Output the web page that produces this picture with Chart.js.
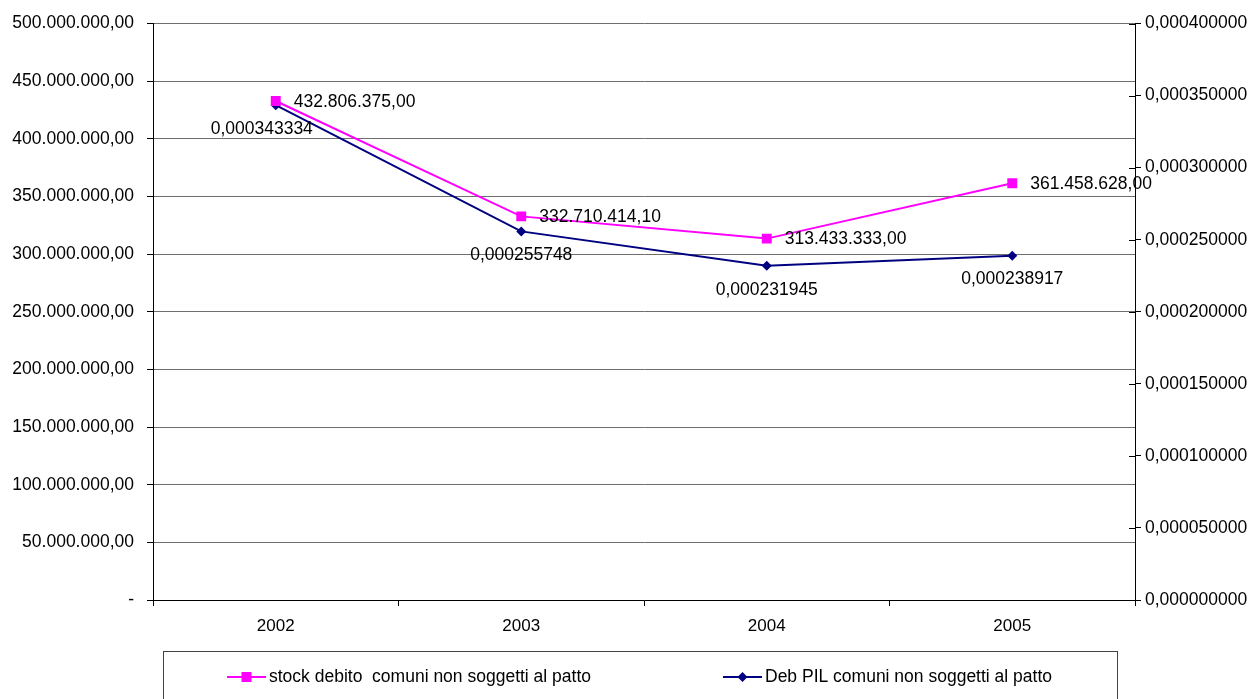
<!DOCTYPE html>
<html>
<head>
<meta charset="utf-8">
<script src="https://cdn.jsdelivr.net/npm/chart.js@4/dist/chart.umd.min.js"></script>
<style>
  body { margin: 0; background: #fff; }
  #wrap { width: 1255px; height: 699px; position: relative; }
</style>
</head>
<body>
<div id="wrap"><canvas id="myChart"></canvas></div>
<script>
// anni e serie
var years = ['2002', '2003', '2004', '2005'];
var stockDebito = [432806375.00, 332710414.10, 313433333.00, 361458628.00];
var debPil = [0.000343334, 0.000255748, 0.000231945, 0.000238917];
var stockLabel = 'stock debito  comuni non soggetti al patto';
var pilLabel = 'Deb PIL comuni non soggetti al patto';

// tick degli assi
var leftTicks = [0, 50000000, 100000000, 150000000, 200000000, 250000000, 300000000, 350000000, 400000000, 450000000, 500000000];
var rightTicks = [0, 0.00005, 0.0001, 0.00015, 0.0002, 0.00025, 0.0003, 0.00035, 0.0004];

var FONT = 'Liberation Sans, Arial, sans-serif';
var PINK = '#FF00FF';
var NAVY = '#000080';

// 432806375 -> "432.806.375,00"
function euro(v) {
    var parts = v.toFixed(2).split('.');
    var intPart = parts[0].replace(/\B(?=(\d{3})+(?!\d))/g, '.');
    return intPart + ',' + parts[1];
}
function small(v) {
    return v.toFixed(9).replace('.', ',');
}

// etichette dei valori, tacche interne dell'asse destro, legenda
var extras = {
    id: 'extras',
    afterDatasetsDraw: function(chart) {
        var ctx = chart.ctx;
        ctx.save();
        ctx.font = '17.5px ' + FONT;
        ctx.fillStyle = '#000';
        ctx.textBaseline = 'middle';

        var m0 = chart.getDatasetMeta(0);
        ctx.textAlign = 'left';
        m0.data.forEach(function(p, i) {
            ctx.fillText(euro(stockDebito[i]), p.x + 18, p.y + 1);
        });

        var m1 = chart.getDatasetMeta(1);
        ctx.textAlign = 'center';
        m1.data.forEach(function(p, i) {
            var dx = i == 0 ? -14 : 0;
            ctx.fillText(small(debPil[i]), p.x + dx, p.y + 24);
        });

        // tacche a croce sull'asse destro
        var y1 = chart.scales.y1;
        var area = chart.chartArea;
        ctx.strokeStyle = '#000';
        ctx.lineWidth = 1;
        rightTicks.forEach(function(v) {
            var yy = Math.round(y1.getPixelForValue(v)) + 0.5;
            ctx.beginPath();
            ctx.moveTo(area.right - 6, yy);
            ctx.lineTo(area.right, yy);
            ctx.stroke();
        });
        ctx.restore();
    },
    afterDraw: function(chart) {
        var ctx = chart.ctx;
        ctx.save();
        ctx.strokeStyle = '#444';
        ctx.lineWidth = 1;
        ctx.strokeRect(163.5, 651.5, 954, 80);

        var ly = 677;
        var entries = [
            { x1: 227, x2: 266, text: stockLabel, w: 330, color: PINK, shape: 'rect' },
            { x1: 723, x2: 762, text: pilLabel, w: 295, color: NAVY, shape: 'diamond' }
        ];
        entries.forEach(function(e) {
            ctx.strokeStyle = e.color;
            ctx.lineWidth = 2;
            ctx.beginPath();
            ctx.moveTo(e.x1, ly);
            ctx.lineTo(e.x2, ly);
            ctx.stroke();
            var cx = (e.x1 + e.x2) / 2;
            ctx.fillStyle = e.color;
            ctx.beginPath();
            if (e.shape == 'rect') {
                ctx.rect(cx - 5, ly - 5, 10, 10);
            } else {
                ctx.moveTo(cx, ly - 5);
                ctx.lineTo(cx + 5, ly);
                ctx.lineTo(cx, ly + 5);
                ctx.lineTo(cx - 5, ly);
                ctx.closePath();
            }
            ctx.fill();
            ctx.fillStyle = '#000';
            ctx.font = '17.5px ' + FONT;
            ctx.textAlign = 'left';
            ctx.textBaseline = 'middle';
            ctx.fillText(e.text, e.x2 + 3, ly, e.w);
        });
        ctx.restore();
    }
};

var myChart = document.getElementById('myChart').getContext('2d');
var chart = new Chart(myChart, {
    type: 'line',
    data: {
        labels: years,
        datasets: [{
            label: stockLabel,
            data: stockDebito,
            yAxisID: 'y',
            borderColor: PINK,
            backgroundColor: PINK,
            borderWidth: 2,
            pointStyle: 'rect',
            pointRadius: 7,
            pointBorderWidth: 0,
            tension: 0
        }, {
            label: pilLabel,
            data: debPil,
            yAxisID: 'y1',
            borderColor: NAVY,
            backgroundColor: NAVY,
            borderWidth: 2,
            pointStyle: 'rectRot',
            pointRadius: 5,
            pointBorderWidth: 0,
            tension: 0
        }]
    },
    options: {
        responsive: true,
        maintainAspectRatio: false,
        animation: false,
        layout: { padding: { top: 23, left: 0, right: 0, bottom: 0 } },
        plugins: {
            legend: { display: false },
            tooltip: { enabled: false }
        },
        scales: {
            x: {
                offset: true,
                grid: { offset: true, drawOnChartArea: false, tickLength: 6, color: '#000' },
                border: { color: '#000', width: 1 },
                ticks: { color: '#000', font: { family: FONT, size: 17 }, padding: 10, maxRotation: 0 },
                afterFit: function(s) { s.height = 99; }
            },
            y: {
                position: 'left',
                min: 0,
                max: 500000000,
                afterBuildTicks: function(s) { s.ticks = leftTicks.map(function(v) { return { value: v }; }); },
                grid: { color: '#6e6e6e', tickColor: '#000', tickLength: 6 },
                border: { color: '#000', width: 1 },
                ticks: {
                    color: '#000',
                    font: { family: FONT, size: 17.5 },
                    padding: 13,
                    callback: function(v) { return v == 0 ? '-' : euro(v); }
                },
                afterFit: function(s) { s.width = 153; }
            },
            y1: {
                position: 'right',
                min: 0,
                max: 0.0004,
                afterBuildTicks: function(s) { s.ticks = rightTicks.map(function(v) { return { value: v }; }); },
                grid: { drawOnChartArea: false, tickColor: '#000', tickLength: 6 },
                border: { color: '#000', width: 1 },
                ticks: {
                    color: '#000',
                    font: { family: FONT, size: 17.5 },
                    padding: 4,
                    callback: function(v) { return small(v); }
                },
                afterFit: function(s) { s.width = 120; }
            }
        }
    },
    plugins: [extras]
});
</script>
</body>
</html>
